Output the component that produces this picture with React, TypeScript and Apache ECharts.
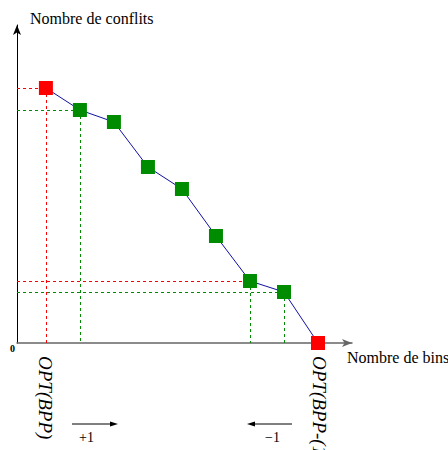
import React, { useEffect, useRef } from "react";
import * as echarts from "echarts";

const bins = [1, 2, 3, 4, 5, 6, 7, 8, 9];
const conflicts = [25.5, 23.3, 22.1, 17.6, 15.4, 10.7, 6.2, 5.1, 0];
const pointKinds = ["opt", "mid", "mid", "mid", "mid", "mid", "mid", "mid", "opt"];
// guides: [index, horizontal colour kind, vertical colour kind]
const guides: [number, string, string][] = [
  [0, "opt", "opt"],
  [1, "mid", "mid"],
  [6, "opt", "mid"],
  [7, "mid", "mid"],
];
const X_MIN = 0.15;
const X_MAX = 10;
const Y_MAX = 31.8;

const RED = "#ff0000";
const GREEN = "#008c00";
const col = (k: string) => (k === "opt" ? RED : GREEN);
const SERIF = "'Liberation Serif', 'DejaVu Serif', serif";

export default function App() {
  const ref = useRef<HTMLDivElement>(null);
  useEffect(() => {
    const chart = echarts.init(ref.current!, null, { renderer: "svg" });
    const markData: any[] = [];
    guides.forEach(([i, hk, vk]) => {
      const hs = { color: col(hk), type: [3, 3], width: 1 };
      const vs = { color: col(vk), type: [3, 3], width: 1 };
      markData.push([
        { coord: [X_MIN, conflicts[i]], lineStyle: hs },
        { coord: [bins[i], conflicts[i]], lineStyle: hs },
      ]);
      markData.push([
        { coord: [bins[i], conflicts[i]], lineStyle: vs },
        { coord: [bins[i], 0], lineStyle: vs },
      ]);
    });
    chart.setOption({
      animation: false,
      grid: { left: 17, top: 25, width: 335, height: 318 },
      xAxis: {
        type: "value",
        min: X_MIN,
        max: X_MAX,
        axisLine: {
          show: true,
          onZero: true,
          symbol: ["none", "arrow"],
          symbolSize: [6, 10],
          lineStyle: { color: "#666", width: 1.5 },
        },
        axisTick: { show: false },
        axisLabel: { show: false },
        splitLine: { show: false },
      },
      yAxis: {
        type: "value",
        min: 0,
        max: Y_MAX,
        axisLine: {
          show: true,
          symbol: ["none", "arrow"],
          symbolSize: [6, 10],
          lineStyle: { color: "#000", width: 1 },
        },
        axisTick: { show: false },
        axisLabel: { show: false },
        splitLine: { show: false },
      },
      series: [
        {
          type: "line",
          data: bins.map((b, i) => ({
            value: [b, conflicts[i]],
            itemStyle: { color: col(pointKinds[i]) },
          })),
          symbol: "rect",
          symbolSize: 14,
          z: 5,
          lineStyle: { color: "#1010a0", width: 1 },
          markLine: {
            silent: true,
            symbol: "none",
            label: { show: false },
            z: 1,
            data: markData,
          },
        },
      ],
      graphic: [
        { type: "text", x: 30, y: 18, style: { text: "Nombre de conflits", font: `16px ${SERIF}`, fill: "#000", textVerticalAlign: "middle" } },
        { type: "text", x: 347, y: 357, style: { text: "Nombre de bins", font: `16px ${SERIF}`, fill: "#000", textVerticalAlign: "middle" } },
        { type: "text", x: 10, y: 348, style: { text: "0", font: `bold 10px ${SERIF}`, fill: "#000", textVerticalAlign: "middle" } },
        { type: "text", x: 45, y: 356, rotation: -Math.PI / 2, style: { text: "OPT(BPP)", font: `italic 19px ${SERIF}`, fill: "#000", textAlign: "left", textVerticalAlign: "middle" } },
        { type: "text", x: 319, y: 356, rotation: -Math.PI / 2, style: { text: "OPT(BPP-(1))", font: `italic 19px ${SERIF}`, fill: "#000", textAlign: "left", textVerticalAlign: "middle" } },
        { type: "line", shape: { x1: 72, y1: 424, x2: 112, y2: 424 }, style: { stroke: "#000", lineWidth: 1 } },
        { type: "polygon", shape: { points: [[118, 424], [110, 421.5], [110, 426.5]] }, style: { fill: "#000" } },
        { type: "text", x: 79, y: 437, style: { text: "+1", font: `14px ${SERIF}`, fill: "#000", textVerticalAlign: "middle" } },
        { type: "line", shape: { x1: 253, y1: 424, x2: 292, y2: 424 }, style: { stroke: "#000", lineWidth: 1 } },
        { type: "polygon", shape: { points: [[247, 424], [255, 421.5], [255, 426.5]] }, style: { fill: "#000" } },
        { type: "text", x: 265, y: 437, style: { text: "\u22121", font: `14px ${SERIF}`, fill: "#000", textVerticalAlign: "middle" } },
      ],
    });
    return () => chart.dispose();
  }, []);
  return (
    <div
      ref={ref}
      style={{ position: "absolute", left: 0, top: 0, width: 448, height: 450, background: "#fff" }}
    />
  );
}
